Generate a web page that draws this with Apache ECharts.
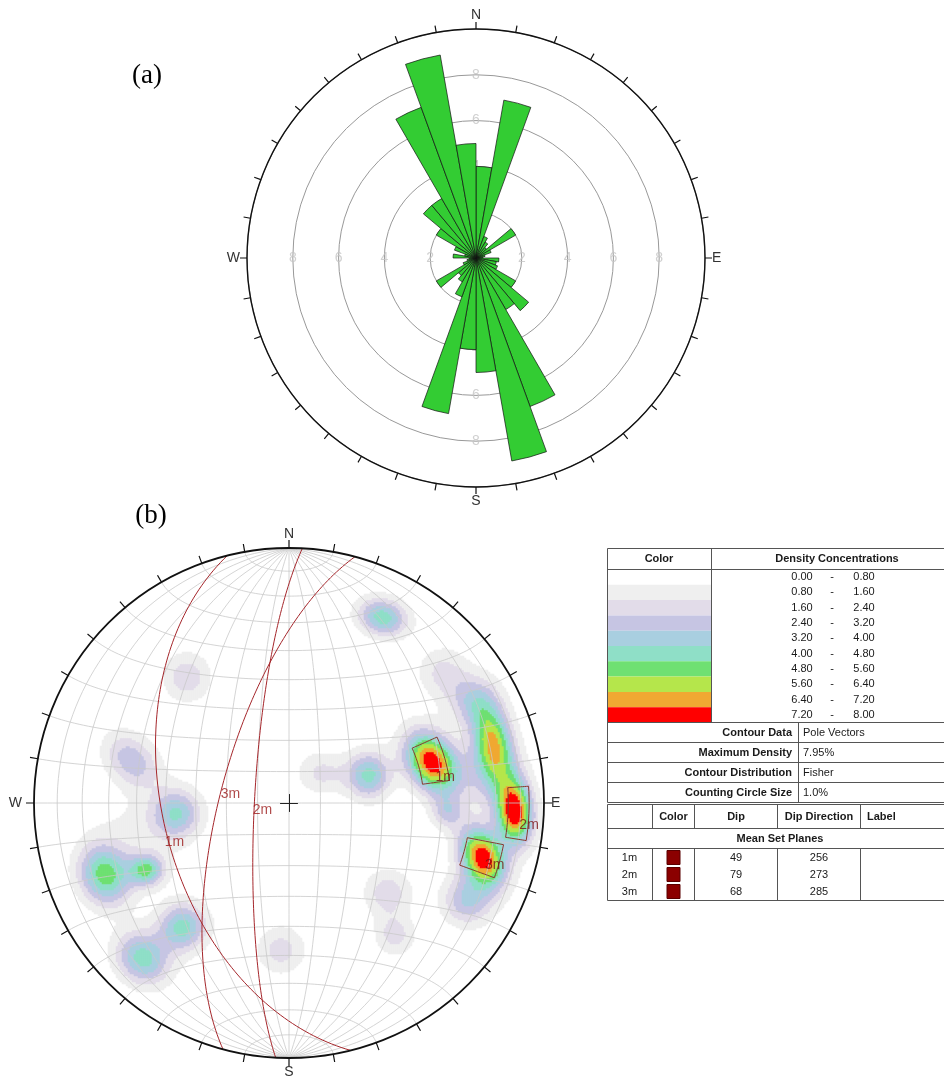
<!DOCTYPE html>
<html><head><meta charset="utf-8">
<script src="https://cdn.jsdelivr.net/npm/echarts@6/dist/echarts.min.js"></script>
<style>html,body{margin:0;padding:0;background:#fff}#c{width:944px;height:1078px}</style>
</head><body><div id="c"></div>
<script>
// ---------- (a) rose diagram data: 10-degree bins clockwise from N ----------
const roseBins = ['0-10','10-20','20-30','30-40','40-50','50-60','60-70','70-80','80-90','90-100','100-110','110-120','120-130','130-140','140-150','150-160','160-170','170-180','180-190','190-200','200-210','210-220','220-230','230-240','240-250','250-260','260-270','270-280','280-290','290-300','300-310','310-320','320-330','330-340','340-350','350-360'];
const roseCounts = [4.0,7.0,1.0,0.8,0.6,2.0,0.7,0.4,0.3,1.0,0.9,1.0,2.0,3.0,2.6,6.9,9.0,5.0,4.0,6.9,1.8,1.2,1.0,2.0,0.6,0.4,0.3,1.0,0.5,1.0,2.0,3.0,3.0,7.0,9.0,5.0];
const roseRingLabels = [2,4,6,8];
const roseMax = 10;

// ---------- (b) stereonet data ----------
const densityLow  = [0.00,0.80,1.60,2.40,3.20,4.00,4.80,5.60,6.40,7.20];
const densityHigh = [0.80,1.60,2.40,3.20,4.00,4.80,5.60,6.40,7.20,8.00];
const densityColors = ['#ffffff','#efefef','#e2dce9','#c6c5e3','#a9cfe0','#8fdfc7','#6fe072','#b5e64b','#f0a832','#ff0000'];
// pole-density sources in equal-area net units (radius = 1)
const srcX    = [0.369,-0.400,-0.616,-0.439,-0.722,-0.557,-0.416,-0.573,-0.031,0.388,0.416,0.314,0.129,0.561,0.800,0.886,0.761,0.702,0.620,0.718,0.604,-0.584,0.780];
const srcY    = [0.729,0.494,0.169,-0.039,-0.282,-0.263,-0.486,-0.608,-0.576,-0.353,-0.518,0.110,0.118,0.161,0.240,-0.035,-0.212,-0.380,-0.035,0.404,0.514,-0.125,0.100];
const srcPeak = [4.5,2.2,3.0,3.8,5.1,4.5,4.4,4.4,2.0,2.2,2.0,4.3,1.8,7.95,6.25,7.95,7.95,3.3,2.4,2.6,1.8,1.0,1.8];
const srcSpreadA = [0.069,0.066,0.086,0.066,0.085,0.047,0.066,0.080,0.067,0.065,0.055,0.060,0.070,0.090,0.110,0.090,0.085,0.070,0.045,0.070,0.070,0.130,0.090];
const srcSpreadB = [0.051,0.068,0.063,0.066,0.070,0.042,0.066,0.068,0.067,0.065,0.055,0.065,0.060,0.065,0.055,0.050,0.058,0.070,0.045,0.070,0.070,0.130,0.090];
const srcTilt    = [-15,0,-45,0,-70,0,0,-45,0,0,0,0,0,-58,-80,-85,-65,0,0,0,0,0,0];

const setLabels = ['1m','2m','3m'];
const setDip = [49,79,68];
const setDipDir = [256,273,285];
const windowTrend  = [[66,82],[86,99],[101,110]];
const windowPlunge = [[36.6,46.1],[6.5,15.1],[15.4,29.5]];

const contourKeys = ['Contour Data','Maximum Density','Contour Distribution','Counting Circle Size'];
const contourVals = ['Pole Vectors','7.95%','Fisher','1.0%'];
const setHeaders = ['Color','Dip','Dip Direction','Label'];

// ---------- helpers ----------
const D2R = Math.PI/180;
function projVec(e,n,d){ // lower hemisphere equal-area, R=1
  if (d < 0){ e=-e; n=-n; d=-d; }
  const len = Math.sqrt(e*e+n*n+d*d); e/=len; n/=len; d/=len;
  const pl = Math.asin(Math.min(1,d));
  const tr = Math.atan2(e,n);
  const r = Math.SQRT2*Math.sin((Math.PI/2-pl)/2);
  return [r*Math.sin(tr), r*Math.cos(tr)];
}
function projTP(trend, plunge){
  const r = Math.SQRT2*Math.sin((90-plunge)/2*D2R);
  return [r*Math.sin(trend*D2R), r*Math.cos(trend*D2R)];
}
function steps(n){ return Array.from({length:n+1},(_,i)=>i/n); }

// net lines
const netLines = [];
for (let dip=10; dip<=90; dip+=10){
  for (const sgn of (dip===90?[1]:[1,-1])){
    const c = steps(90).map(t=>{const f=t*Math.PI; return projVec(sgn*Math.sin(f)*Math.cos(dip*D2R), Math.cos(f), Math.sin(f)*Math.sin(dip*D2R));});
    netLines.push({coords:c});
  }
}
for (let b=10; b<180; b+=10){
  const c = steps(90).map(t=>{const p=t*Math.PI; return projVec(Math.sin(b*D2R)*Math.cos(p), Math.cos(b*D2R), Math.sin(b*D2R)*Math.sin(p));});
  netLines.push({coords:c});
}
// mean set planes
const planeLines = setDip.map((dip,k)=>{
  const a = setDipDir[k]*D2R, s = (setDipDir[k]-90)*D2R, dr = dip*D2R;
  const S=[Math.sin(s),Math.cos(s),0], Dv=[Math.cos(dr)*Math.sin(a),Math.cos(dr)*Math.cos(a),Math.sin(dr)];
  return {coords: steps(120).map(t=>{const f=t*Math.PI; return projVec(Math.cos(f)*S[0]+Math.sin(f)*Dv[0], Math.cos(f)*S[1]+Math.sin(f)*Dv[1], Math.cos(f)*S[2]+Math.sin(f)*Dv[2]);})};
});
const planeLabelPts = setDip.map((dip,k)=>({value:projTP(setDipDir[k], dip), name:setLabels[k]}));
const polePts = setDip.map((dip,k)=>({value:projTP((setDipDir[k]+180)%360, 90-dip), name:setLabels[k]}));
const windowLines = windowTrend.map((tr,k)=>{
  const [t0,t1]=tr, [p0,p1]=windowPlunge[k], c=[];
  for (const t of steps(10)) c.push(projTP(t0+(t1-t0)*t, p0));
  for (const t of steps(10)) c.push(projTP(t1, p0+(p1-p0)*t));
  for (const t of steps(10)) c.push(projTP(t1-(t1-t0)*t, p1));
  for (const t of steps(10)) c.push(projTP(t0, p1-(p1-p0)*t));
  return {coords:c};
});

// density grid
const NC = 255;
const idx = Array.from({length:NC},(_,i)=>i);
const cells = [];
for (let i=0;i<NC;i++) for (let j=0;j<NC;j++){
  const u=-1+(i+0.5)*2/NC, v=-1+(j+0.5)*2/NC;
  if (u*u+v*v>1) continue;
  let d=0;
  for (let k=0;k<srcX.length;k++){
    const a=srcTilt[k]*D2R, dx=u-srcX[k], dy=v-srcY[k];
    const xr=dx*Math.cos(a)+dy*Math.sin(a), yr=-dx*Math.sin(a)+dy*Math.cos(a);
    d+=srcPeak[k]*Math.exp(-0.5*(xr*xr/(srcSpreadA[k]*srcSpreadA[k])+yr*yr/(srcSpreadB[k]*srcSpreadB[k])));
  }
  if (d>=densityHigh[0]) cells.push([i,j,d]);
}
const pieces = densityLow.slice(1).map((lo,i)=>({gte:lo, lt:(i+1===densityLow.length-1?1e9:densityHigh[i+1]), color:densityColors[i+1]}));

const nesw = v => ({0:'N',90:'E',180:'S',270:'{w|W}'})[v] || '';
const SANS = '"Liberation Sans", Arial, sans-serif';

// ---------- tables (graphic) ----------
const G = [];
const LC = '#555';
function line(x1,y1,x2,y2){ G.push({type:'line', z:100, shape:{x1,y1,x2,y2}, style:{stroke:LC, lineWidth:1}}); }
function rect(x,y,w,h,fill,stroke){ G.push({type:'rect', z:99, shape:{x,y,width:w,height:h}, style:{fill:fill, stroke:stroke||null, lineWidth:stroke?1:0}}); }
function text(t,x,y,align,bold,size,fam,color){ G.push({type:'text', z:101, x:x, y:y, style:{text:String(t), font:(bold?'bold ':'')+(size||11)+'px '+(fam||SANS), fill:color||'#1a1a1a', align:align||'center', verticalAlign:'middle', textAlign:align||'center', textVerticalAlign:'middle'}}); }

// table 1
const bandTop = 569.5, bandH = 15.3;
densityColors.forEach((c,i)=>rect(607.5, bandTop+i*bandH, 104, bandH, c));
rect(607.5,548.5,356,254,null,LC);
line(607.5,569.5,963.5,569.5);
line(711.5,548.5,711.5,722.5);
line(607.5,722.5,963.5,722.5);
[742.5,762.5,782.5].forEach(y=>line(607.5,y,963.5,y));
line(798.5,722.5,798.5,802.5);
text('Color',659,559,'center',true);
text('Density Concentrations',837,559,'center',true);
densityLow.forEach((lo,i)=>{
  const y = bandTop+(i+0.5)*bandH;
  text(lo.toFixed(2),802,y,'center');
  text('-',832,y,'center');
  text(densityHigh[i].toFixed(2),864,y,'center');
});
contourKeys.forEach((k,i)=>{
  const y = 732.5+i*20;
  text(k,792,y,'right',true);
  text(contourVals[i],803,y,'left');
});
// table 2
rect(607.5,804.5,346,96,null,LC);
line(607.5,828.5,953.5,828.5);
line(607.5,848.5,953.5,848.5);
[652.5,694.5,777.5,860.5].forEach(x=>{ line(x,804.5,x,828.5); line(x,848.5,x,900.5); });
text(setHeaders[0],673.5,816.5,'center',true);
text(setHeaders[1],736,816.5,'center',true);
text(setHeaders[2],819,816.5,'center',true);
text(setHeaders[3],867,816.5,'left',true);
text('Mean Set Planes',780,838.5,'center',true);
setLabels.forEach((l,i)=>{
  const y = 857.5+i*17;
  text(l,629.5,y,'center');
  rect(667,y-7,13,14,'#8b0000','#5a0000');
  text(setDip[i],736,y,'center');
  text(setDipDir[i],819,y,'center');
});
// panel labels
text('(a)',147,76,'center',false,27,'"Liberation Serif", "Times New Roman", serif','#000');
text('(b)',151,516,'center',false,27,'"Liberation Serif", "Times New Roman", serif','#000');

const chart = echarts.init(document.getElementById('c'), null, {renderer:'canvas'});
chart.setOption({
  animation:false,
  backgroundColor:'#fff',
  polar:[
    {center:[476,258], radius:229},
    {center:[476,258], radius:229},
    {center:[289,803], radius:255}
  ],
  angleAxis:[
    {polarIndex:0, type:'category', data:roseBins, startAngle:90, clockwise:true, boundaryGap:true,
     axisLine:{show:false}, axisTick:{show:false}, axisLabel:{show:false}, splitLine:{show:false}},
    {polarIndex:1, type:'value', min:0, max:360, interval:10, startAngle:90, clockwise:true, z:5,
     axisLine:{lineStyle:{color:'#111', width:1.4}}, axisTick:{length:7, lineStyle:{color:'#111', width:1.2}},
     axisLabel:{margin:7, formatter:nesw, color:'#333', fontSize:14, fontFamily:SANS, rich:{w:{fontSize:14, color:'#333', fontFamily:SANS}}}, splitLine:{show:false}},
    {polarIndex:2, type:'value', min:0, max:360, interval:10, startAngle:90, clockwise:true, z:10,
     axisLine:{lineStyle:{color:'#111', width:1.8}}, axisTick:{length:8, lineStyle:{color:'#111', width:1.2}},
     axisLabel:{margin:7, formatter:nesw, color:'#333', fontSize:14, fontFamily:SANS, rich:{w:{fontSize:14, color:'#333', fontFamily:SANS, padding:[0,5,0,0]}}}, splitLine:{show:false}}
  ],
  radiusAxis:[
    {polarIndex:0, type:'value', min:0, max:roseMax, interval:2, axisLine:{show:false}, axisTick:{show:false}, axisLabel:{show:false},
     splitLine:{show:true, lineStyle:{color:'#999', width:1}}},
    {polarIndex:1, type:'value', min:0, max:roseMax, show:false},
    {polarIndex:2, type:'value', min:0, max:1, show:false}
  ],
  grid:[
    {left:34, top:548, width:510, height:510},
    {left:34, top:548, width:510, height:510}
  ],
  xAxis:[
    {gridIndex:0, type:'category', data:idx, show:false},
    {gridIndex:1, type:'value', min:-1, max:1, show:false}
  ],
  yAxis:[
    {gridIndex:0, type:'category', data:idx, show:false},
    {gridIndex:1, type:'value', min:-1, max:1, show:false}
  ],
  visualMap:[{type:'piecewise', show:false, seriesIndex:2, dimension:2, pieces:pieces, outOfRange:{color:'rgba(0,0,0,0)'}}],
  series:[
    {type:'bar', coordinateSystem:'polar', polarIndex:0, data:roseCounts, barCategoryGap:'0%', z:2, silent:true,
     itemStyle:{color:'#33cc33', borderColor:'#111', borderWidth:0.7}},
    {type:'scatter', coordinateSystem:'polar', polarIndex:1, z:1, silent:true, symbolSize:1, itemStyle:{color:'rgba(0,0,0,0)'},
     data: roseRingLabels.flatMap(r=>[0,90,180,270].map(a=>[r,a])),
     label:{show:true, position:'inside', formatter:p=>p.value[0], color:'#c4c4c4', fontSize:14, fontFamily:SANS}},
    {type:'heatmap', xAxisIndex:0, yAxisIndex:0, data:cells, silent:true, progressive:0, z:1},
    {type:'lines', coordinateSystem:'cartesian2d', xAxisIndex:1, yAxisIndex:1, polyline:true, silent:true, z:3,
     data:netLines, lineStyle:{color:'#c9c9c9', width:0.8, opacity:1}},
    {type:'lines', coordinateSystem:'cartesian2d', xAxisIndex:1, yAxisIndex:1, polyline:true, silent:true, z:4,
     data:planeLines, lineStyle:{color:'#a5262b', width:1, opacity:1}},
    {type:'lines', coordinateSystem:'cartesian2d', xAxisIndex:1, yAxisIndex:1, polyline:true, silent:true, z:4,
     data:windowLines, lineStyle:{color:'#8a3a2e', width:1, opacity:1}},
    {type:'lines', coordinateSystem:'cartesian2d', xAxisIndex:1, yAxisIndex:1, polyline:false, silent:true, z:4,
     data:[{coords:[[-0.035,0],[0.035,0]]},{coords:[[0,-0.035],[0,0.035]]}], lineStyle:{color:'#222', width:1, opacity:1}},
    {type:'scatter', xAxisIndex:1, yAxisIndex:1, z:5, silent:true, symbolSize:1, itemStyle:{color:'rgba(0,0,0,0)'},
     data:planeLabelPts, label:{show:true, position:'inside', offset:[8,9], formatter:p=>p.name, color:'#9c1c1c', fontSize:14, fontFamily:SANS}},
    {type:'scatter', xAxisIndex:1, yAxisIndex:1, z:5, silent:true, symbolSize:1, itemStyle:{color:'rgba(0,0,0,0)'},
     data:polePts, label:{show:true, position:'inside', offset:[11,10], formatter:p=>p.name, color:'#7a1010', fontSize:14, fontFamily:SANS}}
  ],
  graphic:{elements:G}
});
</script>
</body></html>
